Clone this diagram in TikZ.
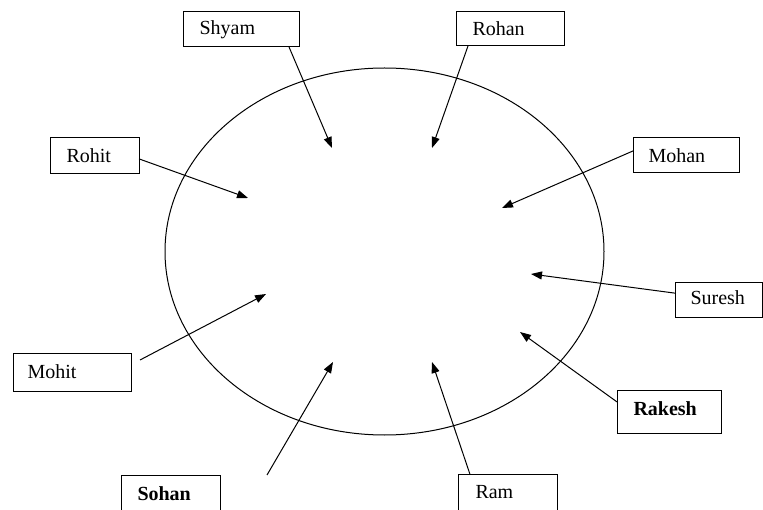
\documentclass[tikz,border=0pt]{standalone}
\usepackage{fontspec}
\setmainfont{Liberation Serif}
\usetikzlibrary{calc,arrows.meta}
\begin{document}
\begin{tikzpicture}[x=1pt,y=-1pt,line width=1pt,
  namebox/.style={draw,inner sep=0pt,outer sep=0pt},
  label/.style={anchor=base west,inner sep=0pt,font=\fontsize{20}{24}\selectfont},
  arr/.style={-{Triangle[length=11pt,width=8pt]}}]
\useasboundingbox (0,0) rectangle (763,510);
\clip (0,0) rectangle (763,510);
\fill[white] (0,0) rectangle (763,510);
% ellipse
\draw (384.5,251.5) ellipse [x radius=219.5pt, y radius=183.5pt];
% boxes
\node[namebox,minimum width=116pt,minimum height=35pt] (shyam) at (241,29.5) {};
\node[namebox,minimum width=108pt,minimum height=34pt] (rohan) at (510,29) {};
\node[namebox,minimum width=89pt,minimum height=36pt] (rohit) at (94.5,156) {};
\node[namebox,minimum width=106pt,minimum height=35pt] (mohan) at (686,155.5) {};
\node[namebox,minimum width=87pt,minimum height=35pt] (suresh) at (718.5,300.5) {};
\node[namebox,minimum width=104pt,minimum height=42pt] (rakesh) at (669,412) {};
\node[namebox,minimum width=118pt,minimum height=38pt] (mohit) at (72,373) {};
\node[namebox,minimum width=99pt,minimum height=38pt] (sohan) at (170.5,494) {};
\node[namebox,minimum width=99pt,minimum height=38pt] (ram) at (507.5,493) {};
% labels
\node[label] (tshyam) at ($(shyam.north west)+(16,23)$) {Shyam};
\node[label] (trohan) at ($(rohan.north west)+(16,24)$) {Rohan};
\node[label] (trohit) at ($(rohit.north west)+(16,25)$) {Rohit};
\node[label] (tmohan) at ($(mohan.north west)+(15,25)$) {Mohan};
\node[label] (tsuresh) at ($(suresh.north west)+(15,22)$) {Suresh};
\node[label,font=\fontsize{20}{24}\selectfont\bfseries] (trakesh) at ($(rakesh.north west)+(16,24)$) {Rakesh};
\node[label] (tmohit) at ($(mohit.north west)+(14,25)$) {Mohit};
\node[label,font=\fontsize{20}{24}\selectfont\bfseries] (tsohan) at ($(sohan.north west)+(16,25)$) {Sohan};
\node[label] (tram) at ($(ram.north west)+(17,24)$) {Ram};
% arrow tips and free starts
\coordinate (pshyam) at (332,148);
\coordinate (prohan) at (432,148);
\coordinate (prohit) at (248,198);
\coordinate (pmohan) at (502,208);
\coordinate (psuresh) at (531,274);
\coordinate (prakesh) at (520,332);
\coordinate (pmohit) at (266,294);
\coordinate (psohan) at (333,362);
\coordinate (pram) at (432,362);
\coordinate (smohit) at (140,360);
\coordinate (ssohan) at (267,475);
% connectors
\draw[arr] ($(shyam.south west)!0.914!(shyam.south east)$) -- (pshyam);
\draw[arr] ($(rohan.south west)!0.111!(rohan.south east)$) -- (prohan);
\draw[arr] ($(rohit.north east)!0.58!(rohit.south east)$) -- (prohit);
\draw[arr] ($(mohan.north west)!0.37!(mohan.south west)$) -- (pmohan);
\draw[arr] ($(suresh.north west)!0.29!(suresh.south west)$) -- (psuresh);
\draw[arr] ($(rakesh.north west)!0.26!(rakesh.south west)$) -- (prakesh);
\draw[arr] (smohit) -- (pmohit);
\draw[arr] (ssohan) -- (psohan);
\draw[arr] ($(ram.north west)!0.12!(ram.north east)$) -- (pram);
\end{tikzpicture}
\end{document}
